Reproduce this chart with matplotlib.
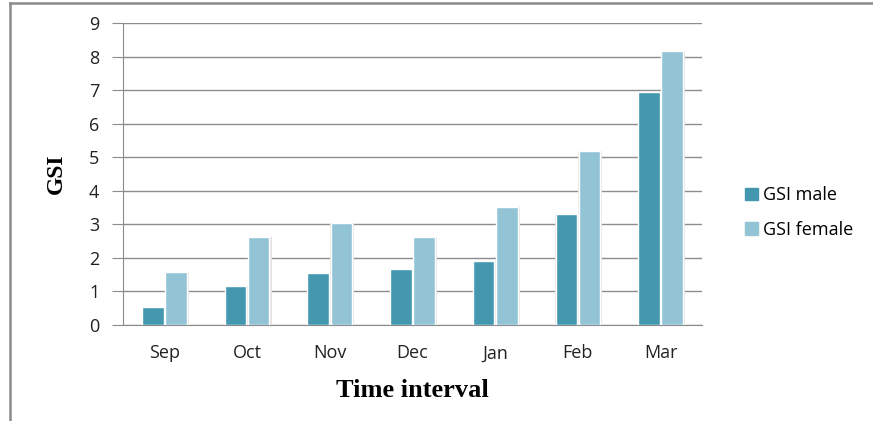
import matplotlib.pyplot as plt
import numpy as np
from matplotlib.lines import Line2D

months = ['Sep', 'Oct', 'Nov', 'Dec', 'Jan', 'Feb', 'Mar']
gsi_male = [0.53, 1.16, 1.55, 1.66, 1.91, 3.31, 6.96]
gsi_female = [1.57, 2.62, 3.03, 2.62, 3.52, 5.18, 8.16]

male_color = '#4398af'
female_color = '#93c4d6'

fig = plt.figure(figsize=(8.73, 4.21), dpi=100)
ax = fig.add_axes([0.141, 0.228, 0.663, 0.717])

x = np.arange(len(months))
w = 0.26
off = 0.14

# soft shadow behind each bar
for xs, vals in ((x - off, gsi_male), (x + off, gsi_female)):
    ax.bar(xs + 0.012, vals, width=w + 0.03, color='#e4e4e4', zorder=2)

ax.bar(x - off, gsi_male, width=w, color=male_color, edgecolor='white',
       linewidth=1.0, label='GSI male', zorder=3)
ax.bar(x + off, gsi_female, width=w, color=female_color, edgecolor='white',
       linewidth=1.0, label='GSI female', zorder=3)

ax.set_xlim(-0.5, len(months) - 0.5)
ax.set_ylim(0, 9)
ax.set_yticks(range(10))
ax.set_xticks(x)
ax.set_xticklabels(months, fontfamily='Open Sans', fontsize=13, color='#222222')
for lab in ax.get_yticklabels():
    lab.set_fontfamily('Open Sans')
    lab.set_fontsize(13)
    lab.set_color('#222222')

ax.yaxis.grid(True, color='#8c8c8c', linewidth=1.0, zorder=0)
ax.set_axisbelow(True)
for side in ('top', 'right'):
    ax.spines[side].set_visible(False)
ax.spines['left'].set_color('#8c8c8c')
ax.spines['bottom'].set_color('#8c8c8c')
ax.tick_params(axis='y', length=8, color='#8c8c8c', pad=9)
ax.tick_params(axis='x', length=0, pad=14)

ax.set_ylabel('GSI', fontfamily='Liberation Serif', fontweight='bold',
              fontsize=17, labelpad=16)
ax.set_xlabel('Time interval', fontfamily='Liberation Serif', fontweight='bold',
              fontsize=19, labelpad=12)

handles = [plt.Rectangle((0, 0), 1, 1, color=male_color),
           plt.Rectangle((0, 0), 1, 1, color=female_color)]
fig.legend(handles, ['GSI male', 'GSI female'], loc='center left',
           bbox_to_anchor=(0.835, 0.495), frameon=False,
           prop={'family': 'Open Sans', 'size': 13},
           handlelength=0.7, handleheight=0.7, handletextpad=0.3,
           labelspacing=0.9)

# partial frame around the chart area
fig.add_artist(Line2D([0.0115, 0.0115], [0.0, 0.993], color='#8a8a8a', linewidth=1.8))
fig.add_artist(Line2D([0.0115, 1.0], [0.993, 0.993], color='#8a8a8a', linewidth=1.8))

fig.savefig('out.png', dpi=100)
